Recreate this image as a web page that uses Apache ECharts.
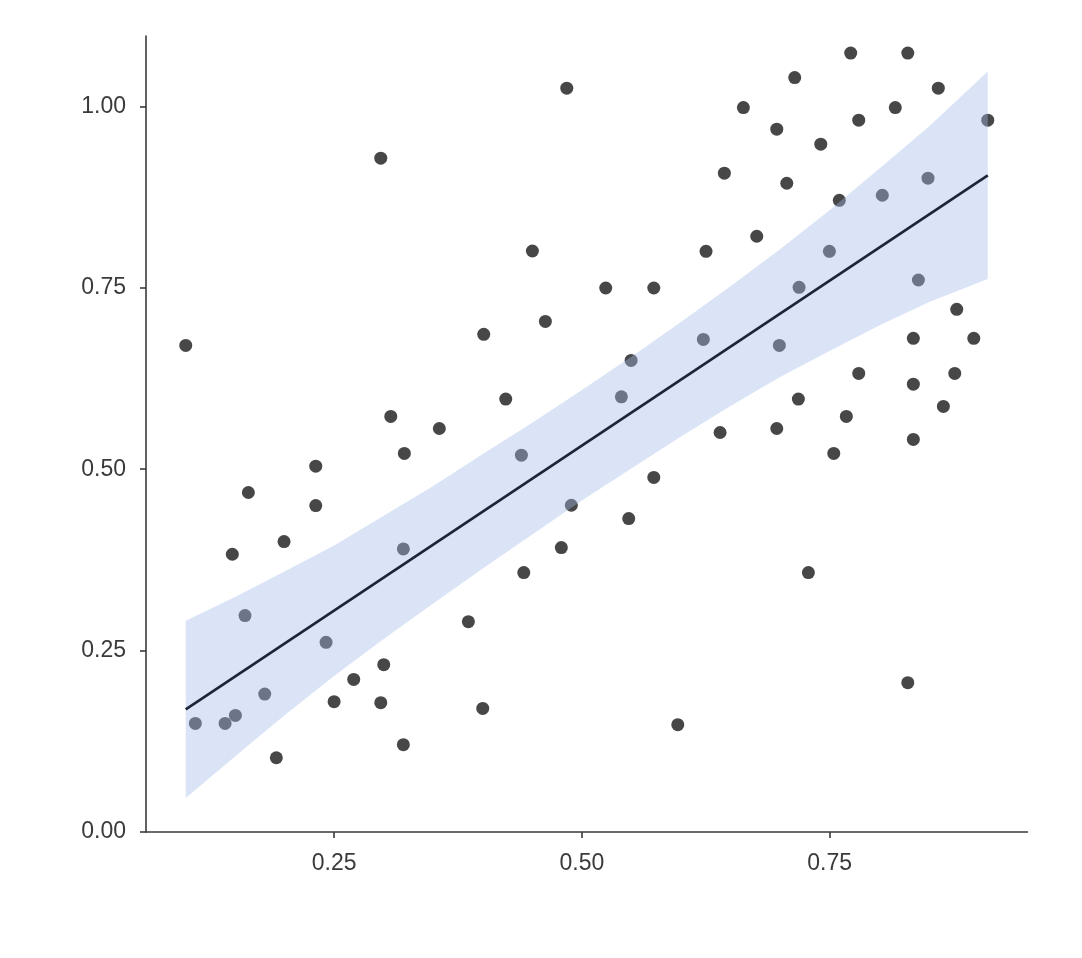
<!DOCTYPE html>
<html><head><meta charset="utf-8">
<script src="https://cdn.jsdelivr.net/npm/echarts@6/dist/echarts.min.js"></script>
<style>html,body{margin:0;padding:0;background:#fff}#c{width:1082px;height:958px}</style>
</head><body><div id="c"></div>
<script>
const pointX = [0.1003,0.1100,0.1400,0.1504,0.1473,0.1601,0.1635,0.1800,0.1917,0.1995,
0.2315,0.2315,0.2419,0.2500,0.2698,0.2971,0.2971,0.3001,0.3072,0.3199,
0.3209,0.3199,0.3562,0.3855,0.4010,0.4000,0.4232,0.4390,0.4414,0.4501,
0.4632,0.4793,0.4848,0.4894,0.5241,0.5399,0.5473,0.5497,0.5726,0.5726,
0.5968,0.6226,0.6253,0.6395,0.6438,0.6630,0.6765,0.6967,0.6967,0.6993,
0.7068,0.7148,0.7185,0.7192,0.7286,0.7411,0.7498,0.7542,0.7598,0.7669,
0.7713,0.7794,0.7794,0.8032,0.8163,0.8289,0.8289,0.8345,0.8345,0.8345,
0.8396,0.8493,0.8597,0.8648,0.8763,0.8783,0.8955,0.9096];
const pointY = [0.6706,0.1497,0.1497,0.1607,0.3828,0.2982,0.4679,0.1901,0.1023,0.4003,
0.5041,0.4499,0.2614,0.1796,0.2103,0.9286,0.1782,0.2306,0.5727,0.3901,
0.5217,0.1203,0.5561,0.2899,0.6858,0.1703,0.5966,0.5193,0.3575,0.8007,
0.7037,0.3920,1.0251,0.4503,0.7497,0.5997,0.4320,0.6499,0.7497,0.4886,
0.1479,0.6789,0.8003,0.5506,0.9079,0.9983,0.8210,0.9686,0.5561,0.6706,
0.8941,1.0397,0.5966,0.7506,0.3575,0.9479,0.8003,0.5217,0.8706,0.5727,
1.0734,0.9810,0.6320,0.8775,0.9983,1.0734,0.2058,0.6803,0.6172,0.5410,
0.7607,0.9010,1.0251,0.5865,0.6320,0.7203,0.6803,0.9810];
const fitX = [0.1003, 0.9096];
const fitY = [0.169, 0.905];
const bandX = [0.1003, 0.15, 0.2, 0.25, 0.3, 0.35, 0.4, 0.45, 0.5, 0.55, 0.6, 0.65, 0.7, 0.75, 0.8, 0.85, 0.9096];
const bandUpper = [0.291, 0.324, 0.359, 0.395, 0.436, 0.477, 0.521, 0.564, 0.609, 0.655, 0.703, 0.752, 0.803, 0.857, 0.914, 0.972, 1.048];
const bandLower = [0.047, 0.104, 0.161, 0.215, 0.266, 0.315, 0.363, 0.410, 0.457, 0.501, 0.545, 0.587, 0.627, 0.663, 0.698, 0.730, 0.762];
const xTicks = [0.25, 0.5, 0.75];
const yTicks = [0, 0.25, 0.5, 0.75, 1.0];

const points = pointX.map((x, i) => [x, pointY[i]]);
const fitLine = fitX.map((x, i) => [x, fitY[i]]);

const axisCommon = {
  type: 'value',
  splitLine: { show: false },
  axisLine: { show: true, lineStyle: { color: '#3a3a3a', width: 1.6 } },
  axisTick: { show: true, length: 6, lineStyle: { color: '#3a3a3a', width: 1.6 } },
  axisLabel: {
    color: '#3a3a3a', fontSize: 23, fontFamily: 'Liberation Sans, Arial, Helvetica, sans-serif',
    formatter: v => v.toFixed(2)
  }
};

const chart = echarts.init(document.getElementById('c'), null, { renderer: 'canvas' });
chart.setOption({
  animation: false,
  backgroundColor: '#ffffff',
  grid: { left: 146, right: 54.5, top: 36, bottom: 126, containLabel: false },
  xAxis: Object.assign({}, axisCommon, {
    min: 0.0602, max: 0.9497,
    axisTick: Object.assign({}, axisCommon.axisTick, { customValues: xTicks }),
    axisLabel: Object.assign({}, axisCommon.axisLabel, { customValues: xTicks, margin: 20 })
  }),
  yAxis: Object.assign({}, axisCommon, {
    min: 0, max: 1.097,
    axisTick: Object.assign({}, axisCommon.axisTick, { customValues: yTicks }),
    axisLabel: Object.assign({}, axisCommon.axisLabel, { customValues: yTicks, margin: 20 })
  }),
  series: [
    {
      type: 'scatter', data: points, symbol: 'circle', symbolSize: 13,
      itemStyle: { color: '#474747', opacity: 1 }, z: 2
    },
    {
      type: 'custom', data: [0], z: 3, silent: true,
      renderItem: function (params, api) {
        const pts = [];
        for (let i = 0; i < bandX.length; i++) pts.push(api.coord([bandX[i], bandUpper[i]]));
        for (let i = bandX.length - 1; i >= 0; i--) pts.push(api.coord([bandX[i], bandLower[i]]));
        return { type: 'polygon', shape: { points: pts }, style: { fill: 'rgba(162,187,232,0.4)' } };
      }
    },
    {
      type: 'line', data: fitLine, showSymbol: false, z: 4,
      lineStyle: { color: '#1c2537', width: 2.6 }
    }
  ]
});
</script>
</body></html>
